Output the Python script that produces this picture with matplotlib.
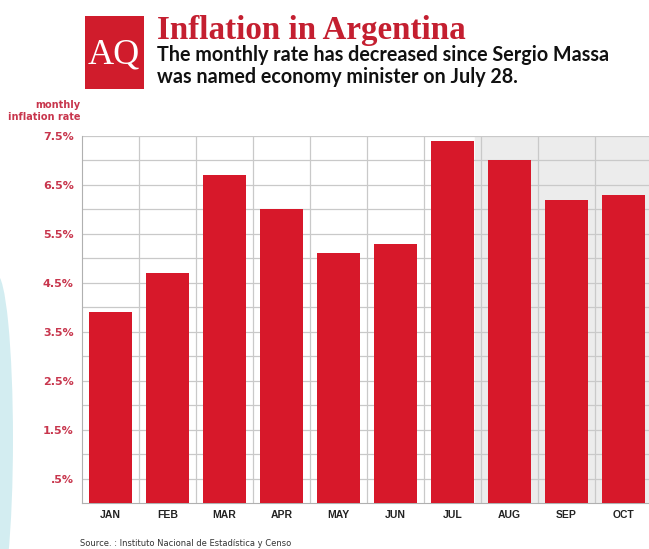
import matplotlib.pyplot as plt
from matplotlib.patches import Rectangle, Ellipse

months = ['JAN', 'FEB', 'MAR', 'APR', 'MAY', 'JUN', 'JUL', 'AUG', 'SEP', 'OCT']
rates = [3.9, 4.7, 6.7, 6.0, 5.1, 5.3, 7.4, 7.0, 6.2, 6.3]
ytick_vals = [0.5, 1.5, 2.5, 3.5, 4.5, 5.5, 6.5, 7.5]
ytick_labels = ['.5%', '1.5%', '2.5%', '3.5%', '4.5%', '5.5%', '6.5%', '7.5%']
massa_day = 6 - 0.5 + 28 / 31  # July 28 on the month axis

red = '#d7182a'
label_red = '#c8364d'

fig = plt.figure(figsize=(6.49, 5.49), dpi=100)

# pale decorative shape on the left edge
fig.patches.append(Ellipse((-0.005, 0.2), 0.05, 0.6, transform=fig.transFigure,
                           facecolor='#d3edf1', edgecolor='none', zorder=0))

ax = fig.add_axes([0.1263, 0.0838, 0.878, 0.6685])
ax.set_xlim(-0.5, len(months) - 0.5)
ax.set_ylim(0, 7.5)

# shaded period after the new minister
ax.axvspan(massa_day, len(months) - 0.5, color='#ececec', zorder=0)

for y in [i * 0.5 for i in range(1, 16)]:
    ax.axhline(y, color='#c9c9c9', lw=0.9, zorder=1)
for x in range(len(months)):
    ax.axvline(x + 0.5, color='#c9c9c9', lw=0.9, zorder=1)

ax.bar(range(len(months)), rates, width=0.75, color=red, zorder=3)

ax.set_xticks(range(len(months)))
ax.set_xticklabels(months, fontsize=7.5, fontweight='bold', color='#222222',
                   family='Liberation Sans')
ax.set_yticks(ytick_vals)
ax.set_yticklabels(ytick_labels, fontsize=8, fontweight='bold', color=label_red)
ax.tick_params(length=0, pad=6)
ax.tick_params(axis='x', pad=5)

for s in ['top', 'right']:
    ax.spines[s].set_visible(False)
ax.spines['left'].set_color('#b0b0b0')
ax.spines['bottom'].set_color('#b0b0b0')

# header
fig.patches.append(Rectangle((85 / 649, 1 - 89 / 549), 59 / 649, 73 / 549,
                             transform=fig.transFigure, facecolor='#d01c2c',
                             edgecolor='none'))
fig.text(114 / 649, 1 - 55 / 549, 'AQ', color='white', fontsize=26,
         family='Liberation Serif', ha='center', va='center')
fig.text(157 / 649, 1 - 30 / 549, 'Inflation in Argentina', color='#c41f30',
         fontsize=23.8, fontweight='bold', family='Liberation Serif', va='center')
fig.text(157 / 649, 1 - 45 / 549,
         'The monthly rate has decreased since Sergio Massa\n'
         'was named economy minister on July 28.',
         fontsize=14.2, fontweight='bold', family='Lato', va='top',
         linespacing=1.12, color='#111111')

fig.text(80 / 649, 1 - 111 / 549, 'monthly\ninflation rate', color=label_red,
         fontsize=7, fontweight='bold', ha='right', va='center', linespacing=1.3)

fig.text(80 / 649, 1 - 543 / 549, 'Source. : Instituto Nacional de Estadística y Censo',
         fontsize=6, color='#333333', va='center')

fig.savefig('out.png', dpi=100)
